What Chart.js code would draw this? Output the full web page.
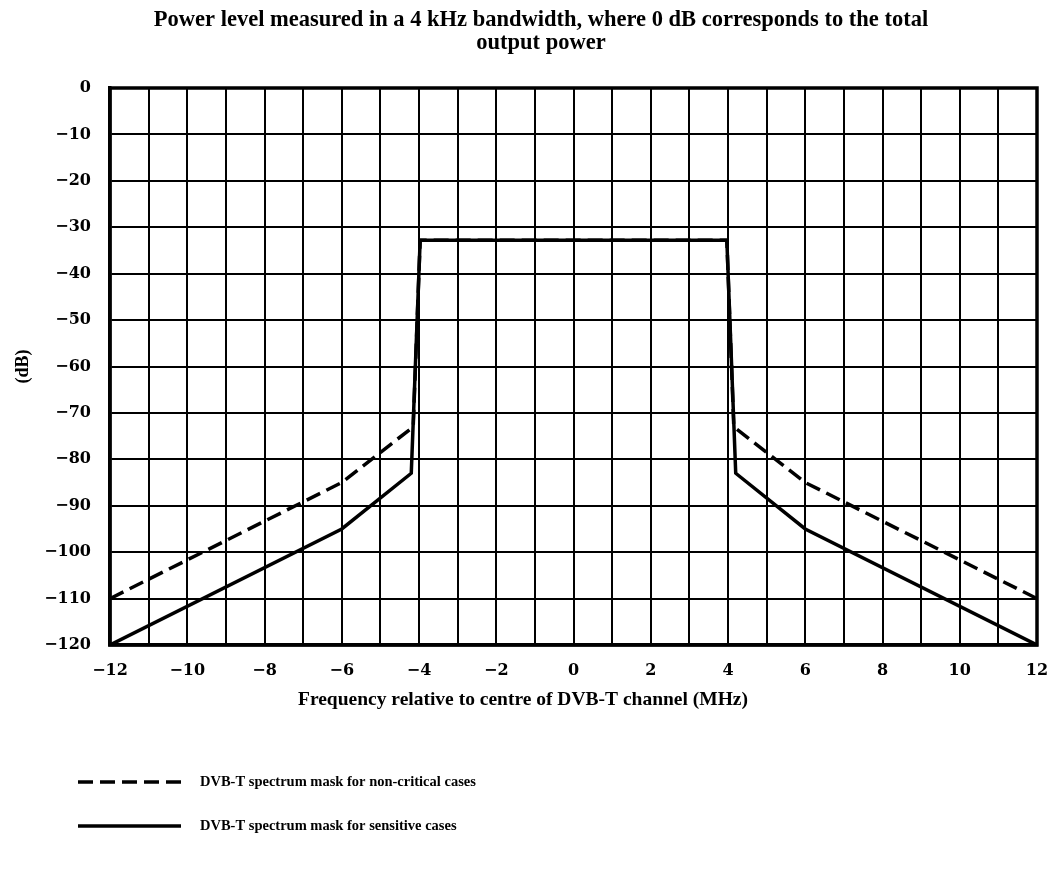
<!DOCTYPE html>
<html>
<head>
<meta charset="utf-8">
<script src="https://cdn.jsdelivr.net/npm/chart.js@4.4.1/dist/chart.umd.min.js"></script>
<style>
  html, body { margin: 0; padding: 0; background: #fff; }
</style>
</head>
<body>
<canvas id="myChart" width="1051" height="871"></canvas>
<script>
// DVB-T spectrum masks (frequency in MHz, level in dB)
const freqNonCritical = [-12, -6, -4.15, -3.97, 3.97, 4.15, 6, 12];
const levelNonCritical = [-110, -85, -73, -32.8, -32.8, -73, -85, -110];
const freqSensitive = [-12, -6, -4.2, -3.97, 3.97, 4.2, 6, 12];
const levelSensitive = [-120, -95, -83, -32.8, -32.8, -83, -95, -120];

const labelNonCritical = "DVB-T spectrum mask for non-critical cases";
const labelSensitive = "DVB-T spectrum mask for sensitive cases";
const titleLines = ["Power level measured in a 4 kHz bandwidth, where 0 dB corresponds to the total", "output power"];
const xTitle = "Frequency relative to centre of DVB-T channel (MHz)";
const yTitle = "(dB)";

const serif = "'Liberation Serif', 'Times New Roman', serif";
const wideSerif = "'DejaVu Serif', 'Liberation Serif', serif";

function toPoints(xs, ys) {
    return xs.map((x, i) => ({ x: x, y: ys[i] }));
}

function minusSign(v) {
    return v < 0 ? "\u2212" + Math.abs(v) : String(v);
}

// frame around the plot, thicker than the grid
const framePlugin = {
    id: "frame",
    afterDatasetsDraw(chart) {
        const a = chart.chartArea;
        const ctx = chart.ctx;
        ctx.save();
        ctx.strokeStyle = "#000";
        ctx.lineWidth = 3.5;
        ctx.strokeRect(a.left, a.top, a.right - a.left, a.bottom - a.top);
        ctx.restore();
    }
};

// titles are not centred on the plot in the original, so they are placed by hand
const textPlugin = {
    id: "texts",
    afterDraw(chart) {
        const ctx = chart.ctx;
        ctx.save();
        ctx.fillStyle = "#000";
        ctx.textAlign = "center";
        ctx.textBaseline = "middle";
        ctx.font = "bold 22.5px " + serif;
        ctx.fillText(titleLines[0], 541, 20);
        ctx.fillText(titleLines[1], 541, 43);
        ctx.font = "bold 19.5px " + serif;
        ctx.fillText(xTitle, 523, 700);
        ctx.restore();
    }
};

// legend below the axis title: line sample then text
const bottomLegend = {
    id: "bottomLegend",
    afterDraw(chart) {
        const ctx = chart.ctx;
        const rows = [
            { ds: chart.data.datasets[1], y: 782 },
            { ds: chart.data.datasets[0], y: 826 }
        ];
        ctx.save();
        rows.forEach((r) => {
            ctx.strokeStyle = "#000";
            ctx.lineWidth = 3.5;
            ctx.setLineDash(r.ds.borderDash || []);
            ctx.beginPath();
            ctx.moveTo(78, r.y);
            ctx.lineTo(181, r.y);
            ctx.stroke();
            ctx.setLineDash([]);
            ctx.fillStyle = "#000";
            ctx.font = "bold 14.5px " + serif;
            ctx.textBaseline = "middle";
            ctx.fillText(r.ds.label, 200, r.y);
        });
        ctx.restore();
    }
};

const ctx = document.getElementById("myChart").getContext("2d");
const chart = new Chart(ctx, {
    type: "scatter",
    data: {
        datasets: [
            {
                label: labelSensitive,
                data: toPoints(freqSensitive, levelSensitive),
                showLine: true,
                borderColor: "#000",
                borderWidth: 3.5,
                pointRadius: 0,
                tension: 0,
                order: 0
            },
            {
                label: labelNonCritical,
                data: toPoints(freqNonCritical, levelNonCritical),
                showLine: true,
                borderColor: "#000",
                borderWidth: 3.5,
                borderDash: [15, 7],
                pointRadius: 0,
                tension: 0,
                order: 1
            }
        ]
    },
    options: {
        responsive: false,
        animation: false,
        layout: { padding: { top: 88, right: 0, bottom: 160, left: 0 } },
        plugins: {
            legend: { display: false },
            tooltip: { enabled: false },
            title: { display: false }
        },
        scales: {
            x: {
                type: "linear",
                min: -12,
                max: 12,
                afterFit: (scale) => {
                    scale.height = 66;
                    scale.paddingLeft = 0;
                    scale.paddingRight = 14;
                },
                grid: { color: "#000", lineWidth: 2, drawTicks: false },
                border: { display: true, color: "#000", width: 3.5 },
                ticks: {
                    stepSize: 1,
                    autoSkip: false,
                    maxRotation: 0,
                    padding: 16,
                    color: "#000",
                    font: { family: wideSerif, size: 16, weight: "bold" },
                    callback: (v) => (v % 2 === 0 ? minusSign(v) : "")
                }
            },
            y: {
                type: "linear",
                min: -120,
                max: 0,
                afterFit: (scale) => {
                    scale.width = 110;
                    scale.paddingTop = 0;
                    scale.paddingBottom = 0;
                },
                grid: { color: "#000", lineWidth: 2, drawTicks: false },
                border: { display: true, color: "#000", width: 3.5 },
                ticks: {
                    stepSize: 10,
                    padding: 19,
                    color: "#000",
                    font: { family: wideSerif, size: 16, weight: "bold" },
                    callback: (v) => minusSign(v)
                },
                title: {
                    display: true,
                    text: yTitle,
                    color: "#000",
                    font: { family: serif, size: 18, weight: "bold" },
                    padding: { top: 13, bottom: 0 }
                }
            }
        }
    },
    plugins: [framePlugin, textPlugin, bottomLegend]
});
</script>
</body>
</html>
